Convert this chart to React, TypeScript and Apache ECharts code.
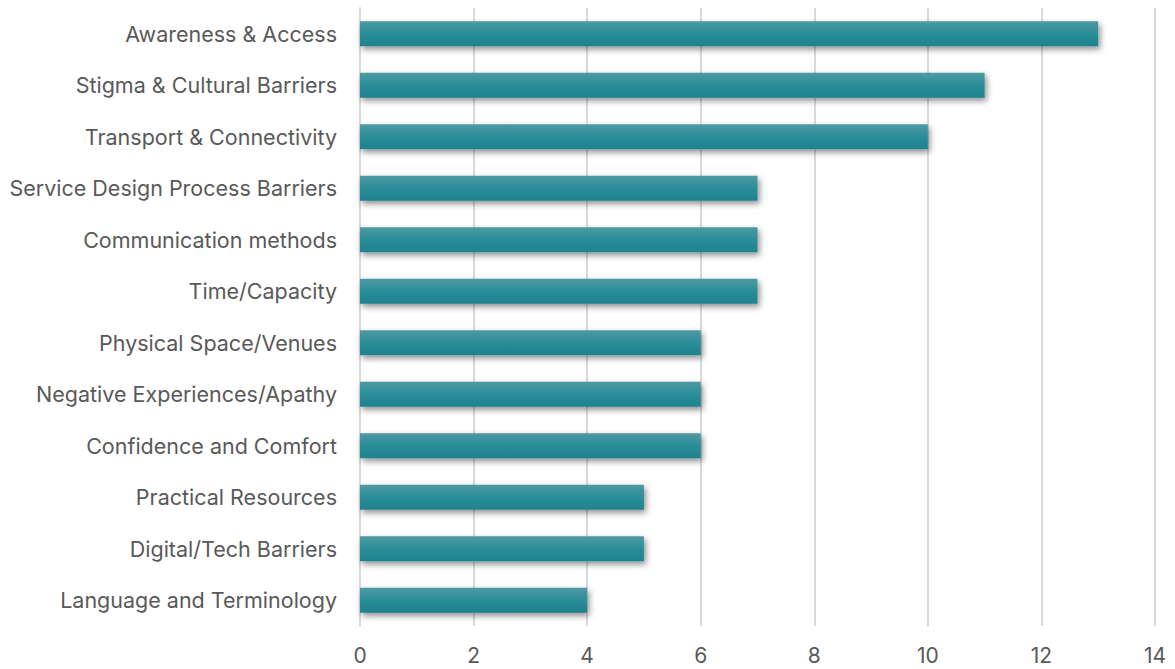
import React, { useEffect, useRef } from "react";
import * as echarts from "echarts";

const categories = [
  "Awareness & Access",
  "Stigma & Cultural Barriers",
  "Transport & Connectivity",
  "Service Design Process Barriers",
  "Communication methods",
  "Time/Capacity",
  "Physical Space/Venues",
  "Negative Experiences/Apathy",
  "Confidence and Comfort",
  "Practical Resources",
  "Digital/Tech Barriers",
  "Language and Terminology",
];
const values = [13, 11, 10, 7, 7, 7, 6, 6, 6, 5, 5, 4];

export default function App() {
  const ref = useRef<HTMLDivElement>(null);
  useEffect(() => {
    if (!ref.current) return;
    const chart = echarts.init(ref.current, null, { renderer: "svg" });
    chart.setOption({
      animation: false,
      grid: { left: 360, right: 20, top: 8, bottom: 43, containLabel: false },
      xAxis: {
        type: "value",
        min: 0,
        max: 14,
        interval: 2,
        axisLine: { show: false },
        axisTick: { show: false },
        axisLabel: {
          color: "#595959",
          fontSize: 21,
          fontFamily: "Inter",
          margin: 19,
        },
        splitLine: { show: true, lineStyle: { color: "#dadada", width: 2 } },
      },
      yAxis: {
        type: "category",
        data: categories.slice().reverse(),
        axisLine: { show: true, lineStyle: { color: "#dadada", width: 2 } },
        axisTick: { show: false },
        axisLabel: {
          color: "#595959",
          fontSize: 21.5,
          fontFamily: "Inter",
          margin: 23,
        },
      },
      series: [
        {
          type: "bar",
          data: values.slice().reverse(),
          barWidth: "49%",
          itemStyle: {
            color: new echarts.graphic.LinearGradient(0, 0, 0, 1, [
              { offset: 0, color: "#4f9aa3" },
              { offset: 0.5, color: "#2a8d98" },
              { offset: 1, color: "#1e828e" },
            ]),
            shadowColor: "rgba(0,0,0,0.45)",
            shadowBlur: 6,
            shadowOffsetX: 2,
            shadowOffsetY: 3,
          },
        },
      ],
    });
    return () => chart.dispose();
  }, []);
  return <div ref={ref} style={{ width: 1175, height: 669, position: "absolute", left: 0, top: 0 }} />;
}
